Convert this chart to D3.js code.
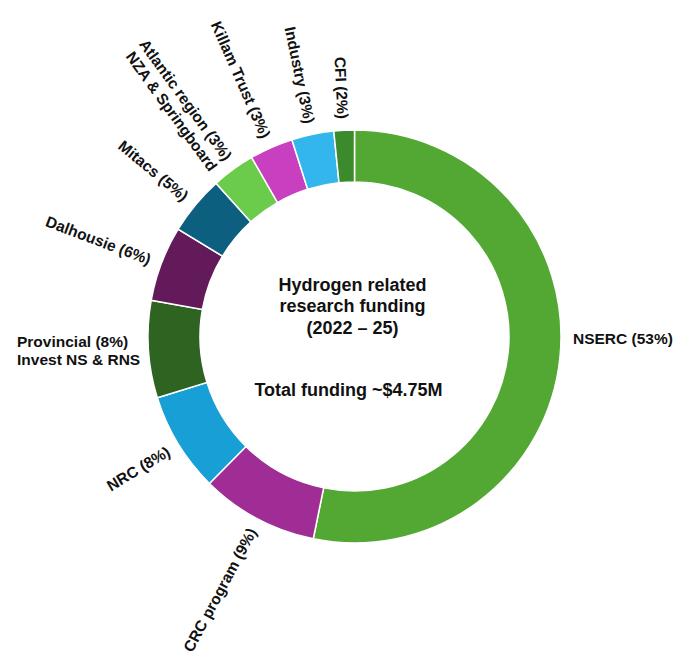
<!DOCTYPE html>
<html lang="en">
  <head>
    <meta charset="UTF-8" />
    <title>Hydrogen related research funding</title>
    <style>
      body {
        margin: 0;
        background: #fff;
      }
      text {
        font-family: 'Liberation Sans', Arial, sans-serif;
        font-weight: bold;
        fill: #111;
      }
    </style>
  </head>
  <body>
    <div id="main"></div>
    <script src="https://cdn.jsdelivr.net/npm/d3@7"></script>
    <script>
      // funding sources, clockwise from 12 o'clock
      const sources = ['NSERC', 'CRC', 'NRC', 'Provincial', 'Dalhousie', 'Mitacs', 'Atlantic', 'Killam', 'Industry', 'CFI']
      // share of funding (%)
      const shares = [53.2, 9.2, 7.8, 7.6, 5.9, 4.6, 3.4, 3.4, 3.3, 1.6]
      const labels = [
        ['NSERC (53%)'],
        ['CRC program (9%)'],
        ['NRC (8%)'],
        ['Provincial (8%)', 'Invest NS & RNS'],
        ['Dalhousie (6%)'],
        ['Mitacs (5%)'],
        ['Atlantic region (3%)', 'NZA & Springboard'],
        ['Killam Trust (3%)'],
        ['Industry (3%)'],
        ['CFI (2%)']
      ]
      const centerLines = ['Hydrogen related', 'research funding', '(2022 \u2013 25)']
      const totalLine = 'Total funding ~$4.75M'

      const colors = ['#53a833', '#a02c96', '#179fd6', '#2e6321', '#621a5b', '#0c5f7f', '#6bcc4b', '#c83fbf', '#33b6ec', '#3b8a2b']

      const [width, height] = [680, 657]
      const [cx, cy] = [354.5, 336.5]
      const [innerR, outerR] = [154.5, 206.5]
      const labelR = 218

      const svg = d3
        .select('#main')
        .append('svg')
        .attr('width', width)
        .attr('height', height)
        .attr('viewBox', `0 0 ${width} ${height}`)

      const g = svg.append('g').attr('transform', `translate(${cx}, ${cy})`)

      const data = sources.map((name, i) => ({ name, value: shares[i], label: labels[i], color: colors[i] }))

      const pie = d3.pie().value(d => d.value).sort(null)
      const arcs = pie(data)
      const arc = d3.arc().innerRadius(innerR).outerRadius(outerR)

      g.append('g')
        .selectAll('path')
        .data(arcs)
        .join('path')
        .attr('d', arc)
        .attr('fill', d => d.data.color)
        .attr('stroke', '#fff')
        .attr('stroke-width', 1.5)

      const deg = a => (a * 180) / Math.PI
      const midAngle = d => (d.startAngle + d.endAngle) / 2

      // horizontal labels for the two slices near 3 and 9 o'clock
      const horizontal = new Set(['NSERC', 'Provincial'])

      const labelG = g.append('g').style('font-size', '15.5px')

      arcs.forEach(d => {
        const a = midAngle(d)
        const name = d.data.name
        const lines = d.data.label
        if (horizontal.has(name)) {
          const right = Math.sin(a) > 0
          const t = labelG.append('text').attr('dominant-baseline', 'central')
          lines.forEach((line, i) => {
            t.append('tspan')
              .attr('x', right ? outerR + 12 : -cx + 17)
              .attr('y', (i - (lines.length - 1) / 2) * 18 + (right ? 1 : 13))
              .text(line)
          })
          return
        }
        // radial labels on the left half, reading toward the centre
        const x = labelR * Math.sin(a)
        const y = -labelR * Math.cos(a)
        const rot = deg(a) - 270
        const t = labelG
          .append('text')
          .attr('transform', `translate(${x}, ${y}) rotate(${rot})`)
          .attr('text-anchor', 'end')
          .attr('dominant-baseline', 'central')
        lines.forEach((line, i) => {
          t.append('tspan')
            .attr('x', 0)
            .attr('y', lines.length > 1 ? -3 + i * 18 : 0)
            .text(line)
        })
      })

      const center = g.append('g').attr('text-anchor', 'middle').style('font-size', '18px')
      center
        .selectAll('text.title')
        .data(centerLines)
        .join('text')
        .attr('class', 'title')
        .attr('x', -2)
        .attr('y', (_, i) => -52 + i * 21.5)
        .attr('dominant-baseline', 'central')
        .text(d => d)

      center
        .append('text')
        .attr('x', -6)
        .attr('y', 53)
        .attr('dominant-baseline', 'central')
        .text(totalLine)
    </script>
  </body>
</html>
